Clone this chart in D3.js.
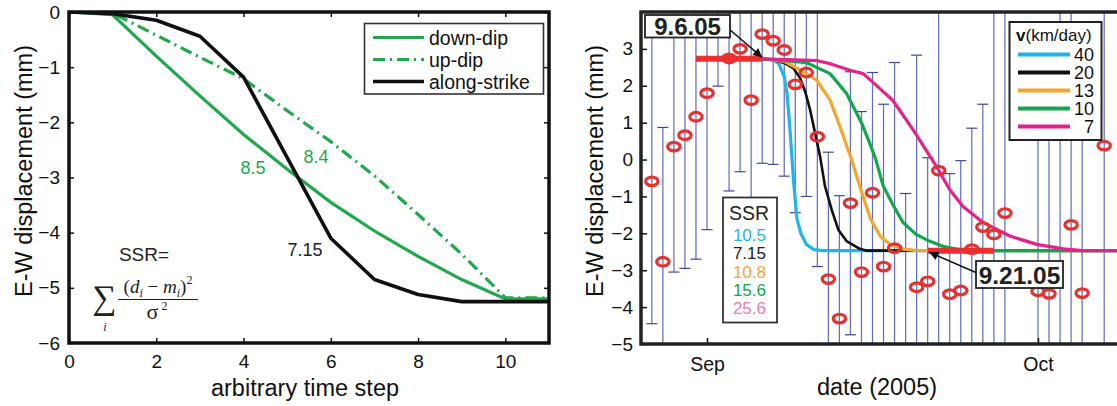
<!DOCTYPE html>
<html><head><meta charset="utf-8">
<script src="https://cdn.jsdelivr.net/npm/d3@7"></script>
<style>
body{margin:0;background:#fff;}
svg{display:block;font-family:"Liberation Sans",Arial,Helvetica,sans-serif;}
</style></head><body>
<svg id="c" width="1117" height="406"></svg>
<script>
// ---------- LEFT PANEL DATA ----------
const stepX = [0,1,2,3,4,5,6,7,8,9,10,11];
const downDip = [0,-0.05,-0.8,-1.52,-2.22,-2.85,-3.45,-3.97,-4.43,-4.85,-5.2,-5.2];
const upDip = [0,-0.02,-0.42,-0.82,-1.21,-1.79,-2.35,-2.97,-3.67,-4.39,-5.18,-5.18];
const alongStrike = [0,-0.03,-0.15,-0.44,-1.18,-2.64,-4.1,-4.85,-5.12,-5.25,-5.25,-5.25];
const leftXTicks = [0,2,4,6,8,10];
const leftYTicks = [0,-1,-2,-3,-4,-5,-6];
const leftNames = ["down-dip","up-dip","along-strike"];
const leftSSR = ["8.5","8.4","7.15"];

// ---------- RIGHT PANEL DATA (days after 2005-09-01) ----------
const obsDay = [-5,-4,-3,-2,-1,0,1,2,3,4,5,6,7,8,9,10,11,12,13,14,15,16,17,18,19,20,21,22,23,24,25,26,27,30,31,32,33,34,36];
const obsVal = [-0.59,-2.77,0.35,0.66,1.16,1.8,null,2.74,3.0,1.61,3.4,3.22,2.97,2.04,2.36,0.62,-3.24,-4.31,-1.18,-3.05,-0.9,-2.9,-2.4,null,-3.46,-3.3,-0.3,-3.65,-3.55,-2.43,-1.83,-2.03,-1.45,-3.57,-3.64,null,-1.77,-3.62,0.38];
const errHi = [5.5,0.87,5.5,5.5,5.5,5.5,5.5,5.5,5.5,5.5,5.5,5.5,5.5,5.5,5.5,4.3,0.2,-0.98,2.38,1.3,2.36,1.5,2.63,-0.92,2.83,0.05,5.5,-0.38,-0.03,0.85,1.5,5.5,5.5,2.0,2.0,5.5,5.5,2.0,5.5];
const errLo = [-4.45,-6.5,-3.05,-2.95,-2.7,-1.9,1.99,-0.85,-0.33,-2.0,-0.1,-0.13,-0.45,-1.44,-1.0,-2.9,-6.5,-6.5,-4.75,-6.5,-6.5,-6.5,-6.5,-6.5,-6.5,-6.5,-6.5,-6.5,-6.5,-6.5,-6.5,-6.5,-6.5,-6.5,-6.5,-6.5,-6.5,-6.5,-6.5];

const v40Days = [5,6,6.5,7,7.25,7.5,7.85,8.15,8.5,9,9.7,10.5,38];
const v40Vals = [2.73,2.7,2.6,2.25,1.8,0.9,-0.6,-1.6,-2.0,-2.3,-2.44,-2.47,-2.47];
const v20Days = [5,6,7,7.85,8.45,8.9,9.35,9.8,10.25,10.7,11.3,11.9,12.65,13.85,14.5,38];
const v20Vals = [2.73,2.7,2.62,2.47,2.2,1.84,1.34,0.71,0.08,-0.73,-1.36,-1.9,-2.21,-2.42,-2.47,-2.47];
const v13Days = [5,7,8.75,9.95,11.15,12.05,13.1,13.85,14.8,15.7,16.6,17.8,19,38];
const v13Vals = [2.73,2.66,2.38,2.15,1.61,0.89,0.0,-0.73,-1.6,-2.08,-2.3,-2.43,-2.47,-2.47];
const v10Days = [5,7,9,11.15,12.65,14,14.75,15.3,15.95,16.8,17.75,18.95,20.15,21.35,22.5,23.5,38];
const v10Vals = [2.73,2.68,2.63,2.33,1.79,1.0,0.44,0.0,-0.7,-1.2,-1.7,-2.03,-2.21,-2.35,-2.42,-2.47,-2.47];
const v7Days = [5,8,10,11.15,12.95,14.15,15.65,16.85,18.7,20.8,22,23.2,25.05,27.5,29.9,32.3,34,38];
const v7Vals = [2.73,2.7,2.68,2.6,2.42,2.33,1.93,1.6,0.8,-0.19,-0.82,-1.27,-1.71,-2.08,-2.3,-2.42,-2.47,-2.47];

const speeds = ["40","20","13","10","7"];
const speedColors = ["#1fb5ea","#111111","#f6a62e","#12a64f","#e6218e"];
const ssrValues = ["10.5","7.15","10.8","15.6","25.6"];
const ssrColors = ["#1fb5ea","#222222","#f6a62e","#12a64f","#f07cb2"];
const rightYTicks = [-5,-4,-3,-2,-1,0,1,2,3];
const preRange = [-1,5], preLevel = 2.73;   // 9.6.05 fit plateau
const postRange = [20,26], postLevel = -2.47; // 9.21.05 fit plateau
const startLabel = "9.6.05", endLabel = "9.21.05";

// ---------- DRAWING ----------
const svg = d3.select("#c");
const defs = svg.append("defs");
defs.append("clipPath").attr("id","clipL").append("rect").attr("x",69).attr("y",12).attr("width",480).attr("height",331);
defs.append("clipPath").attr("id","clipR").append("rect").attr("x",641).attr("y",12).attr("width",520).attr("height",332);
defs.append("marker").attr("id","arr").attr("viewBox","0 0 10 10").attr("refX",10).attr("refY",5)
  .attr("markerWidth",13).attr("markerHeight",9).attr("markerUnits","userSpaceOnUse").attr("orient","auto")
  .append("path").attr("d","M0,0 L10,5 L0,10 z").attr("fill","#111");

function styleAxis(g, fs){
  g.select(".domain").remove();
  g.selectAll(".tick line").attr("stroke","#111").attr("stroke-width",1.5);
  g.selectAll(".tick text").attr("font-size",fs).attr("fill","#111").attr("font-family","Liberation Sans, Arial, sans-serif");
}

// ===== LEFT =====
const xL = d3.scaleLinear().domain([0,11]).range([69,549]);
const yL = d3.scaleLinear().domain([-6,0]).range([343,12]);
const fmt = d3.format("d");

const gL = svg.append("g");
gL.append("g").attr("transform","translate(69,0)")
  .call(d3.axisLeft(yL).tickValues(leftYTicks).tickSize(-5).tickPadding(9).tickFormat(fmt))
  .call(g=>styleAxis(g,19));
gL.append("g").attr("transform","translate(549,0)")
  .call(d3.axisRight(yL).tickValues(leftYTicks).tickSize(-5).tickFormat(""))
  .call(g=>styleAxis(g,19));
gL.append("g").attr("transform","translate(0,343)")
  .call(d3.axisBottom(xL).tickValues(leftXTicks).tickSize(-5).tickPadding(12).tickFormat(fmt))
  .call(g=>styleAxis(g,19));
gL.append("g").attr("transform","translate(0,12)")
  .call(d3.axisTop(xL).tickValues(leftXTicks).tickSize(-5).tickFormat(""))
  .call(g=>styleAxis(g,19));

const lineL = d3.line().x((d,i)=>xL(stepX[i])).y(d=>yL(d));
const plotL = gL.append("g").attr("clip-path","url(#clipL)");
plotL.append("path").datum(downDip).attr("d",lineL).attr("fill","none").attr("stroke","#1fa84c").attr("stroke-width",3.2);
plotL.append("path").datum(upDip).attr("d",lineL).attr("fill","none").attr("stroke","#1fa84c").attr("stroke-width",3.2).attr("stroke-dasharray","12,5,2,5");
plotL.append("path").datum(alongStrike).attr("d",lineL).attr("fill","none").attr("stroke","#111").attr("stroke-width",3.6).attr("stroke-linejoin","round");

gL.append("rect").attr("x",69).attr("y",12).attr("width",480).attr("height",331)
  .attr("fill","none").attr("stroke","#111").attr("stroke-width",3.5);

// left legend
const lg = gL.append("g");
lg.append("rect").attr("x",364.5).attr("y",23.5).attr("width",179).attr("height",70.5).attr("fill","#fff").attr("stroke","#333").attr("stroke-width",1.6);
const legStyles = [{c:"#1fa84c",w:3.2,d:null},{c:"#1fa84c",w:3.2,d:"12,5,2,5"},{c:"#111",w:3.6,d:null}];
const legY = [37.5,59.5,81.5];
leftNames.forEach((n,i)=>{
  lg.append("line").attr("x1",373).attr("x2",424).attr("y1",legY[i]).attr("y2",legY[i])
    .attr("stroke",legStyles[i].c).attr("stroke-width",legStyles[i].w).attr("stroke-dasharray",legStyles[i].d);
  lg.append("text").attr("x",429).attr("y",legY[i]).attr("dominant-baseline","central").attr("font-size",19.5).attr("fill","#111").text(n);
});

// left annotations
gL.append("text").attr("x",253).attr("y",168).attr("text-anchor","middle").attr("dominant-baseline","central").attr("font-size",18).attr("fill","#1fa84c").text(leftSSR[0]);
gL.append("text").attr("x",316).attr("y",157).attr("text-anchor","middle").attr("dominant-baseline","central").attr("font-size",18).attr("fill","#1fa84c").text(leftSSR[1]);
gL.append("text").attr("x",305).attr("y",250).attr("text-anchor","middle").attr("dominant-baseline","central").attr("font-size",18).attr("fill","#222").text(leftSSR[2]);
gL.append("text").attr("x",144).attr("y",254).attr("text-anchor","middle").attr("dominant-baseline","central").attr("font-size",19).attr("fill","#222").text("SSR=");

// formula
const fg = gL.append("g").attr("font-family","Liberation Serif, Times New Roman, serif").attr("fill","#222");
fg.append("text").attr("x",104).attr("y",309).attr("text-anchor","middle").attr("font-size",34).text("\u2211");
fg.append("text").attr("x",105).attr("y",331).attr("text-anchor","middle").attr("font-size",12).attr("font-style","italic").text("i");
const num = fg.append("text").attr("x",158).attr("y",293).attr("text-anchor","middle").attr("font-size",19);
num.append("tspan").text("(");
num.append("tspan").attr("font-style","italic").text("d");
num.append("tspan").attr("font-style","italic").attr("font-size",12).attr("dy",4).text("i");
num.append("tspan").attr("dy",-4).text(" \u2212 ");
num.append("tspan").attr("font-style","italic").text("m");
num.append("tspan").attr("font-style","italic").attr("font-size",12).attr("dy",4).text("i");
num.append("tspan").attr("dy",-4).text(")");
num.append("tspan").attr("font-size",12).attr("dy",-9).text("2");
fg.append("line").attr("x1",118).attr("x2",198).attr("y1",299.5).attr("y2",299.5).attr("stroke","#222").attr("stroke-width",1);
const den = fg.append("text").attr("x",157).attr("y",319).attr("text-anchor","middle").attr("font-size",22);
den.append("tspan").text("\u03C3");
den.append("tspan").attr("font-size",12).attr("dy",-9).text(" 2");

// left titles
gL.append("text").attr("x",305).attr("y",396).attr("text-anchor","middle").attr("font-size",23.5).attr("fill","#111").text("arbitrary time step");
gL.append("text").attr("transform","translate(24,171) rotate(-90)").attr("text-anchor","middle").attr("dominant-baseline","central").attr("font-size",23.5).attr("fill","#111").text("E-W displacement (mm)");

// ===== RIGHT =====
const t0 = Date.UTC(2005,8,1);
const dayDate = d => new Date(t0 + d*864e5);
const xR = d3.scaleUtc().domain([dayDate(0), dayDate(30)]).range([707,1038]);
const yR = d3.scaleLinear().domain([-5,4]).range([344,12]);

const gR = svg.append("g");
const plotR = gR.append("g").attr("clip-path","url(#clipR)");

// error bars
const eb = plotR.append("g");
obsDay.forEach((d,i)=>{
  const x = xR(dayDate(d));
  eb.append("line").attr("x1",x).attr("x2",x).attr("y1",yR(errHi[i])).attr("y2",yR(errLo[i]))
    .attr("stroke","#6670b8").attr("stroke-width",1.25);
  if (errHi[i] <= 4) eb.append("line").attr("x1",x-5.5).attr("x2",x+5.5).attr("y1",yR(errHi[i])).attr("y2",yR(errHi[i])).attr("stroke","#3f47a0").attr("stroke-width",1.2);
  if (errLo[i] >= -5) eb.append("line").attr("x1",x-5.5).attr("x2",x+5.5).attr("y1",yR(errLo[i])).attr("y2",yR(errLo[i])).attr("stroke","#3f47a0").attr("stroke-width",1.2);
});

// model curves
const curveSets = [[v40Days,v40Vals],[v20Days,v20Vals],[v13Days,v13Vals],[v10Days,v10Vals],[v7Days,v7Vals]];
const lineR = d3.line().x(p=>xR(dayDate(p[0]))).y(p=>yR(p[1]));
curveSets.forEach((cs,k)=>{
  const pts = cs[0].map((d,i)=>[d,cs[1][i]]);
  plotR.append("path").datum(pts).attr("d",lineR).attr("fill","none").attr("stroke",speedColors[k])
    .attr("stroke-width",k===1?2.6:3.2).attr("stroke-linejoin","round");
});

// fitted plateaus
[[preRange,preLevel],[postRange,postLevel]].forEach(([r,lv])=>{
  plotR.append("line").attr("x1",xR(dayDate(r[0]))).attr("x2",xR(dayDate(r[1])))
    .attr("y1",yR(lv)).attr("y2",yR(lv)).attr("stroke","#e8302e").attr("stroke-width",6);
});

// observations
obsDay.forEach((d,i)=>{
  if (obsVal[i]===null) return;
  plotR.append("ellipse").attr("cx",xR(dayDate(d))).attr("cy",yR(obsVal[i])).attr("rx",6.2).attr("ry",4.3)
    .attr("fill","none").attr("stroke","#e8302e").attr("stroke-width",3.2);
});

// axes
gR.append("g").attr("transform","translate(641,0)")
  .call(d3.axisLeft(yR).tickValues(rightYTicks).tickSize(-6).tickPadding(8).tickFormat(fmt))
  .call(g=>styleAxis(g,19));
gR.append("g").attr("transform","translate(0,344)")
  .call(d3.axisBottom(xR).tickValues([dayDate(0),dayDate(30)]).tickSize(-6).tickPadding(13).tickFormat(d3.utcFormat("%b")))
  .call(g=>styleAxis(g,19.5));
gR.append("rect").attr("x",641).attr("y",12).attr("width",520).attr("height",332)
  .attr("fill","none").attr("stroke","#222").attr("stroke-width",3.5);

// SSR box
const sb = gR.append("g");
sb.append("rect").attr("x",723).attr("y",197.5).attr("width",54).attr("height",125).attr("fill","#fff").attr("stroke","#333").attr("stroke-width",1.8);
sb.append("text").attr("x",749).attr("y",220).attr("text-anchor","middle").attr("font-size",19.5).attr("fill","#222").text("SSR");
ssrValues.forEach((s,i)=>{
  sb.append("text").attr("x",766).attr("y",241+i*18.3).attr("text-anchor","end").attr("font-size",17).attr("fill",ssrColors[i]).text(s);
});

// speed legend
const rl = gR.append("g");
rl.append("rect").attr("x",1009.5).attr("y",22).attr("width",92).attr("height",118).attr("fill","#fff").attr("stroke","#222").attr("stroke-width",2);
const tt = rl.append("text").attr("x",1016).attr("y",41).attr("font-size",17).attr("fill","#111");
tt.append("tspan").attr("font-weight","bold").text("v");
tt.append("tspan").text("(km/day)");
const rlY = [54.5,72.5,90.5,108.5,126.5];
speeds.forEach((s,i)=>{
  rl.append("line").attr("x1",1018).attr("x2",1070).attr("y1",rlY[i]).attr("y2",rlY[i]).attr("stroke",speedColors[i]).attr("stroke-width",4);
  rl.append("text").attr("x",1094).attr("y",rlY[i]+6.5).attr("text-anchor","end").attr("font-size",18).attr("fill","#111").text(s);
});

// date annotations
const a1 = gR.append("g");
a1.append("line").attr("x1",729).attr("y1",29).attr("x2",xR(dayDate(preRange[1]))).attr("y2",yR(preLevel)-1.5)
  .attr("stroke","#111").attr("stroke-width",1.5).attr("marker-end","url(#arr)");
a1.append("rect").attr("x",645).attr("y",15).attr("width",85).attr("height",22.5).attr("fill","#fff").attr("stroke","#222").attr("stroke-width",1.8);
a1.append("text").attr("x",687.5).attr("y",34.5).attr("text-anchor","middle").attr("font-size",24).attr("font-weight","bold").attr("fill","#222").text(startLabel);

const a2 = gR.append("g");
a2.append("line").attr("x1",977).attr("y1",273).attr("x2",xR(dayDate(postRange[0]))+1.5).attr("y2",yR(postLevel)+1.5)
  .attr("stroke","#111").attr("stroke-width",1.5).attr("marker-end","url(#arr)");
a2.append("rect").attr("x",976).attr("y",261).attr("width",87).attr("height",27).attr("fill","#fff").attr("stroke","#222").attr("stroke-width",1.8);
a2.append("text").attr("x",1019.5).attr("y",283.5).attr("text-anchor","middle").attr("font-size",24.5).attr("font-weight","bold").attr("fill","#222").text(endLabel);

// right titles
gR.append("text").attr("x",877).attr("y",395).attr("text-anchor","middle").attr("font-size",23.5).attr("fill","#111").text("date (2005)");
gR.append("text").attr("transform","translate(595,171) rotate(-90)").attr("text-anchor","middle").attr("dominant-baseline","central").attr("font-size",23.5).attr("fill","#111").text("E-W displacement (mm)");
</script>
</body></html>
